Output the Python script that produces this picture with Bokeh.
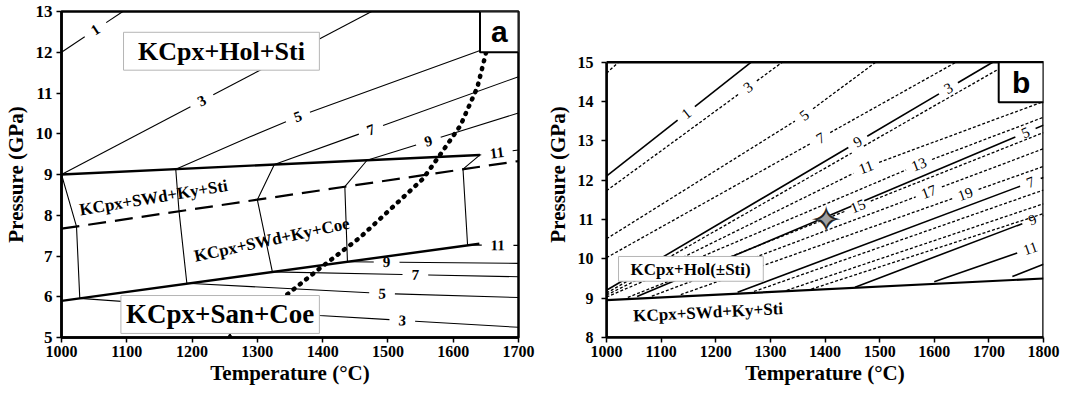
import numpy as np
from bokeh.plotting import figure
from bokeh.layouts import row
from bokeh.models import BoxAnnotation, Label, FixedTicker
from bokeh.core.properties import value
from bokeh.embed import file_html
from bokeh.resources import INLINE

SERIF = "Liberation Serif"
SANS = "Liberation Sans"

# ---------------- tick values ----------------
a_T_ticks = [1000, 1100, 1200, 1300, 1400, 1500, 1600, 1700]
a_P_ticks = [5, 6, 7, 8, 9, 10, 11, 12, 13]
b_T_ticks = [1000, 1100, 1200, 1300, 1400, 1500, 1600, 1700, 1800]
b_P_ticks = [8, 9, 10, 11, 12, 13, 14, 15]

# ---------------- panel a data (T in °C, P in GPa) ----------------
a_up_T = [1000, 1641];  a_up_P = [9.0, 9.48]
a_low_T = [1000, 1640]; a_low_P = [5.9, 7.3]
a_dash_T = [1000, 1700]; a_dash_P = [7.67, 9.33]
a_L1_T = [1000, 1023, 1028]; a_L1_P = [9.0, 7.72, 5.96]
a_L2_T = [1175, 1180, 1192]; a_L2_P = [9.13, 8.10, 6.33]
a_L3_T = [1326, 1300, 1323]; a_L3_P = [9.245, 8.38, 6.61]
a_L4_T = [1468, 1434, 1438]; a_L4_P = [9.35, 8.70, 6.86]
a_L5_T = [1641, 1615, 1622]; a_L5_P = [9.48, 9.13, 7.27]

a_c1_T = [1000, 1094]; a_c1_P = [12.0, 13.0]; a_c1_lab = [(1052, "1")]
a_c3_T = [1000, 1475]; a_c3_P = [9.0, 13.0]; a_c3_lab = [(1215, "3")]
a_c5_T = [1175, 1288, 1362, 1637, 1700]; a_c5_P = [9.13, 9.92, 10.42, 12.02, 12.4]; a_c5_lab = [(1362, "5")]
a_c7_T = [1326, 1700]; a_c7_P = [9.245, 11.4]; a_c7_lab = [(1474, "7")]
a_c9_T = [1468, 1700]; a_c9_P = [9.35, 10.51]; a_c9_lab = [(1562, "9")]
a_c11u_T = [1641, 1700]; a_c11u_P = [9.48, 9.6]; a_c11u_lab = [(1667, "11")]
a_c11l_T = [1622, 1700]; a_c11l_P = [7.27, 7.26]; a_c11l_lab = [(1668, "11")]
a_c9l_T = [1438, 1700]; a_c9l_P = [6.86, 6.82]; a_c9l_lab = [(1498, "9")]
a_c7l_T = [1323, 1700]; a_c7l_P = [6.61, 6.49]; a_c7l_lab = [(1542, "7")]
a_c5l_T = [1192, 1491, 1700]; a_c5l_P = [6.33, 6.08, 5.98]; a_c5l_lab = [(1491, "5")]
a_c3l_T = [1028, 1395, 1700]; a_c3l_P = [5.96, 5.54, 5.25]; a_c3l_lab = [(1522, "3")]

a_curve_T = [1346, 1400, 1457, 1514, 1554, 1585, 1611, 1637, 1652]
a_curve_P = [6.06, 6.75, 7.45, 8.3, 8.9, 9.6, 10.2, 11.14, 12.1]
a_mark_T = [1258]; a_mark_P = [5.0]

# ---------------- panel b data ----------------
b_bnd_T = [1000, 1800]; b_bnd_P = [8.95, 9.5]
# solid isopleths
b_s1_T = [1000, 1265]; b_s1_P = [12.1, 15.0]; b_s1_lab = [(1146, "1")]
b_s3_T = [1000, 1707]; b_s3_P = [9.2, 15.0]; b_s3_lab = [(1460, "9"), (1626, "3")]
b_s5_T = [1056, 1800]; b_s5_P = [9.04, 13.4]; b_s5_lab = [(1460, ""), (1767, "5")]
b_s7_T = [1240, 1800]; b_s7_P = [9.15, 12.07]; b_s7_lab = [(1776, "7")]
b_s9_T = [1455, 1800]; b_s9_P = [9.28, 11.1]; b_s9_lab = [(1780, "9")]
b_s11_T = [1600, 1800]; b_s11_P = [9.42, 10.38]; b_s11_lab = [(1776, "11")]
b_s13_T = [1743, 1800]; b_s13_P = [9.55, 9.86]; b_s13_lab = []
# dotted isopleths
b_d0_T = [1000, 1022]; b_d0_P = [14.72, 15.0]; b_d0_lab = []
b_d3_T = [1000, 1322]; b_d3_P = [11.73, 15.0]; b_d3_lab = [(1259, "3")]
b_d5_T = [1000, 1362, 1493]; b_d5_P = [10.51, 13.65, 15.0]; b_d5_lab = [(1362, "5")]
b_d7_T = [1000, 1640]; b_d7_P = [10.03, 15.0]; b_d7_lab = [(1392, "7")]
b_da_T = [1000, 1740]; b_da_P = [9.13, 15.0]; b_da_lab = [(1460, "")]
b_d11_T = [1000, 1475, 1800]; b_d11_P = [9.08, 12.33, 14.0]; b_d11_lab = [(1475, "11")]
b_d13_T = [1000, 1572, 1800]; b_d13_P = [9.03, 12.4, 13.6]; b_d13_lab = [(1572, "13")]
b_d15_T = [1039, 1800]; b_d15_P = [9.02, 13.21]; b_d15_lab = [(1460, "15")]
b_d17_T = [1083, 1800]; b_d17_P = [9.05, 12.8]; b_d17_lab = [(1590, "17")]
b_d19_T = [1136, 1800]; b_d19_P = [9.09, 12.35]; b_d19_lab = [(1657, "19")]
b_d21_T = [1270, 1800]; b_d21_P = [9.17, 11.75]; b_d21_lab = []
b_d23_T = [1330, 1800]; b_d23_P = [9.2, 11.4]; b_d23_lab = []
b_db_T = [1375, 1800]; b_db_P = [9.23, 11.15]; b_db_lab = []
b_star_T = [1402]; b_star_P = [11.0]

# ---------------- layout ----------------
H = 387
TOP, BOT = 11, 48
FRAME_H = H - TOP - BOT
A_W, A_L, A_R = 538, 56, 20
B_W, B_L, B_R = 522, 68, 17
B_PX_PER_GPA = 277.0 / 7.0          # panel b scale (its frame is shorter)
b_y_top = 8 + FRAME_H / B_PX_PER_GPA


def make_fig(w, xr, yr, bl, br, xt, yt, ytick_fs, ystandoff):
    p = figure(width=w, height=H, x_range=xr, y_range=yr, output_backend="svg",
               toolbar_location=None, min_border_left=bl, min_border_right=br,
               min_border_top=TOP, min_border_bottom=BOT)
    p.xgrid.visible = False
    p.ygrid.visible = False
    p.outline_line_color = "black"
    p.outline_line_width = 2.5
    p.outline_line_alpha = 1.0
    p.background_fill_color = "white"
    p.border_fill_color = "white"
    p.xaxis.ticker = FixedTicker(ticks=xt)
    p.yaxis.ticker = FixedTicker(ticks=yt)
    p.xaxis.axis_label = "Temperature (°C)"
    p.yaxis.axis_label = "Pressure (GPa)"
    for ax in (p.xaxis[0], p.yaxis[0]):
        ax.axis_line_width = 2.5
        ax.axis_line_color = "black"
        ax.major_tick_line_width = 1.5
        ax.major_tick_line_color = "black"
        ax.major_tick_in = 0
        ax.major_tick_out = 5
        ax.minor_tick_line_color = None
        ax.major_label_text_font = SERIF
        ax.major_label_text_font_style = "bold"
        ax.major_label_text_color = "black"
        ax.axis_label_text_font = SERIF
        ax.axis_label_text_font_style = "bold"
        ax.axis_label_text_font_size = "21px"
        ax.axis_label_text_color = "black"
    p.xaxis[0].major_label_text_font_size = "16px"
    p.xaxis[0].major_label_standoff = 3
    p.xaxis[0].axis_label_standoff = 1
    p.yaxis[0].major_label_text_font_size = ytick_fs
    p.yaxis[0].major_label_standoff = ystandoff
    p.yaxis[0].axis_label_standoff = 5
    return p


def cut(T, P, labels, sx, sy, gap_of):
    T = np.asarray(T, float)
    P = np.asarray(P, float)
    X, Y = T * sx, P * sy
    d = np.hypot(np.diff(X), np.diff(Y))
    s = np.concatenate([[0.0], np.cumsum(d)])

    def at_s(q):
        i = int(np.searchsorted(s, q, side="right") - 1)
        i = min(max(i, 0), len(d) - 1)
        f = (q - s[i]) / d[i] if d[i] > 0 else 0.0
        return (T[i] + f * (T[i + 1] - T[i]), P[i] + f * (P[i + 1] - P[i]),
                float(np.arctan2(Y[i + 1] - Y[i], X[i + 1] - X[i])))

    def s_of_T(t):
        for i in range(len(d)):
            lo, hi = sorted((T[i], T[i + 1]))
            if lo <= t <= hi and T[i] != T[i + 1]:
                return s[i] + (t - T[i]) / (T[i + 1] - T[i]) * d[i]
        return None

    gaps, labs = [], []
    for t, txt in labels:
        sl = s_of_T(t)
        g = gap_of(txt)
        gaps.append((sl - g, sl + g))
        if txt:
            labs.append((at_s(sl), txt))
    gaps.sort()
    keep, cur = [], 0.0
    for a, b in gaps:
        if a > cur:
            keep.append((cur, a))
        cur = max(cur, b)
    if cur < s[-1]:
        keep.append((cur, s[-1]))
    xs, ys = [], []
    for a, b in keep:
        pa_, pb_ = at_s(a), at_s(b)
        inner = [i for i in range(len(s)) if a < s[i] < b]
        xs.append([pa_[0]] + [T[i] for i in inner] + [pb_[0]])
        ys.append([pa_[1]] + [P[i] for i in inner] + [pb_[1]])
    return xs, ys, labs


def contour(p, T, P, labels, sx, sy, gap_of, dash, lw, fs, fstyle):
    xs, ys, labs = cut(T, P, labels, sx, sy, gap_of)
    p.multi_line(xs, ys, line_color="black", line_width=lw, line_dash=dash)
    if labs:
        p.text(x=[l[0][0] for l in labs], y=[l[0][1] for l in labs],
               text=[l[1] for l in labs], angle=[l[0][2] for l in labs],
               text_font=value(SERIF), text_font_size=fs, text_font_style=fstyle,
               text_color="black", text_align="center", text_baseline="middle")


def box(p, l, r, b, t, color="#b5b5b5", lw=1.0, fill=True):
    p.add_layout(BoxAnnotation(left=l, right=r, bottom=b, top=t, fill_color="white",
                               fill_alpha=1.0 if fill else 0.0, line_color=color,
                               line_alpha=1.0, line_width=lw))


def label(p, x, y, text, fs, font=SERIF, angle=0.0):
    p.add_layout(Label(x=x, y=y, text=text, text_font=font, text_font_size=fs,
                       text_font_style="bold", text_color="black", angle=angle,
                       text_align="center", text_baseline="middle"))


# ================= panel a =================
pa = make_fig(A_W, (1000, 1700), (5, 13), A_L, A_R, a_T_ticks, a_P_ticks, "17px", 4)
sxa = (A_W - A_L - A_R) / 700.0
sya = FRAME_H / 8.0
gap_a = lambda t: 13 if len(t) < 2 else 16

for T, P in [(a_L1_T, a_L1_P), (a_L2_T, a_L2_P), (a_L3_T, a_L3_P),
             (a_L4_T, a_L4_P), (a_L5_T, a_L5_P)]:
    pa.line(T, P, line_color="black", line_width=1.1)

for T, P, lab in [(a_c1_T, a_c1_P, a_c1_lab), (a_c3_T, a_c3_P, a_c3_lab),
                  (a_c5_T, a_c5_P, a_c5_lab), (a_c7_T, a_c7_P, a_c7_lab),
                  (a_c9_T, a_c9_P, a_c9_lab), (a_c11u_T, a_c11u_P, a_c11u_lab),
                  (a_c11l_T, a_c11l_P, a_c11l_lab), (a_c9l_T, a_c9l_P, a_c9l_lab),
                  (a_c7l_T, a_c7l_P, a_c7l_lab), (a_c5l_T, a_c5l_P, a_c5l_lab),
                  (a_c3l_T, a_c3l_P, a_c3l_lab)]:
    contour(pa, T, P, lab, sxa, sya, gap_a, "solid", 1.1, "15px", "bold")

pa.line(a_up_T, a_up_P, line_color="black", line_width=2.4)
pa.line(a_low_T, a_low_P, line_color="black", line_width=2.4)
pa.line(a_dash_T, a_dash_P, line_color="black", line_width=2.2, line_dash="18 9")
pa.line(a_curve_T, a_curve_P, line_color="black", line_width=4.5, line_dash="1 7",
        line_cap="round")
pa.scatter(a_mark_T, a_mark_P, marker="triangle", size=7, color="black")

box(pa, 1095, 1395, 11.56, 12.49)
label(pa, 1245, 12.02, "KCpx+Hol+Sti", "26px")
box(pa, 1091, 1395, 5.10, 6.03)
label(pa, 1243, 5.57, "KCpx+San+Coe", "27px")
label(pa, 1141, 8.43, "KCpx+SWd+Ky+Sti", "17px", angle=0.165)
label(pa, 1322, 7.40, "KCpx+SWd+Ky+Coe", "17px", angle=0.212)
box(pa, 1641, 1700, 12.0, 13.0, color="black", lw=2)
label(pa, 1670.5, 12.5, "a", "30px", font=SANS)

# ================= panel b =================
pb = make_fig(B_W, (1000, 1800), (8, b_y_top), B_L, B_R, b_T_ticks, b_P_ticks, "16px", 8)
pb.outline_line_color = None
pb.yaxis[0].bounds = (8, 15)
sxb = (B_W - B_L - B_R) / 800.0
syb = B_PX_PER_GPA
gap_b = lambda t: 7 if not t else (11 if len(t) < 2 else 14)

for T, P, lab in [(b_d0_T, b_d0_P, b_d0_lab), (b_d3_T, b_d3_P, b_d3_lab),
                  (b_d5_T, b_d5_P, b_d5_lab), (b_d7_T, b_d7_P, b_d7_lab),
                  (b_da_T, b_da_P, b_da_lab), (b_d11_T, b_d11_P, b_d11_lab),
                  (b_d13_T, b_d13_P, b_d13_lab), (b_d15_T, b_d15_P, b_d15_lab),
                  (b_d17_T, b_d17_P, b_d17_lab), (b_d19_T, b_d19_P, b_d19_lab),
                  (b_d21_T, b_d21_P, b_d21_lab), (b_d23_T, b_d23_P, b_d23_lab),
                  (b_db_T, b_db_P, b_db_lab)]:
    contour(pb, T, P, lab, sxb, syb, gap_b, "3 2", 1.3, "15px", "normal")

for T, P, lab in [(b_s1_T, b_s1_P, b_s1_lab), (b_s3_T, b_s3_P, b_s3_lab),
                  (b_s5_T, b_s5_P, b_s5_lab), (b_s7_T, b_s7_P, b_s7_lab),
                  (b_s9_T, b_s9_P, b_s9_lab), (b_s11_T, b_s11_P, b_s11_lab),
                  (b_s13_T, b_s13_P, b_s13_lab)]:
    contour(pb, T, P, lab, sxb, syb, gap_b, "solid", 1.6, "15px", "normal")

pb.line(b_bnd_T, b_bnd_P, line_color="black", line_width=2.2)

pb.text(x=b_star_T, y=b_star_P, text=["\u2726"], text_color="#a0a0a0",
        text_font=value("DejaVu Sans"), text_font_size="38px",
        text_align="center", text_baseline="middle")
pb.text(x=b_star_T, y=b_star_P, text=["\u2727"], text_color="#222222",
        text_font=value("DejaVu Sans"), text_font_size="38px",
        text_align="center", text_baseline="middle")

# frame of panel b (top at 15 GPa)
box(pb, 1000, 1800, 8, 15, color="black", lw=2.5, fill=False)
box(pb, 1022, 1287, 9.43, 10.06)
label(pb, 1154, 9.74, "KCpx+Hol(\u00b1Sti)", "17px")
label(pb, 1186, 8.64, "KCpx+SWd+Ky+Sti", "17px", angle=0.05)
box(pb, 1718, 1800, 13.98, 15.0, color="black", lw=2)
label(pb, 1759, 14.49, "b", "30px", font=SANS)

layout = row(pa, pb)
open("out.html", "w").write(file_html(layout, INLINE))
